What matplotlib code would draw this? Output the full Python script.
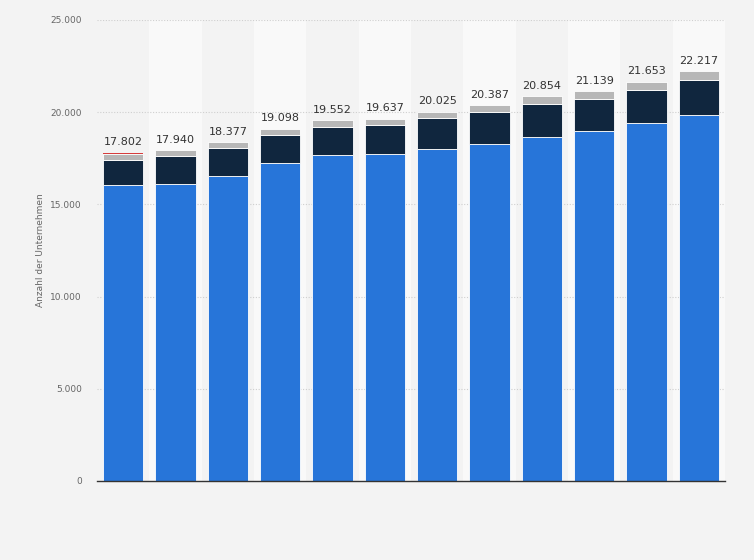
import numpy as np
import matplotlib.pyplot as plt

# stacked segments per year (12 bars, no category labels shown)
years = [str(y) for y in range(2008, 2020)]
blue = [16025, 16095, 16545, 17235, 17655, 17725, 17995, 18265, 18665, 18955, 19395, 19855]
navy = [1390, 1505, 1505, 1505, 1535, 1560, 1685, 1740, 1775, 1765, 1820, 1885]
grey = [320, 340, 327, 358, 362, 352, 345, 382, 414, 419, 438, 477]
red = [67, 0, 0, 0, 0, 0, 0, 0, 0, 0, 0, 0]
y_ticks = [0, 5000, 10000, 15000, 20000, 25000]

def de_num(v):
    return f"{v:,.0f}".replace(",", ".")

fig = plt.figure(figsize=(7.54, 5.6), dpi=100, facecolor='#f3f3f3')
ax = fig.add_axes([97/754, 1 - 481/560, 628/754, 461/560])
ax.set_facecolor('#f3f3f3')

x = np.arange(len(years))
for i in x:
    if i % 2 == 1:
        ax.axvspan(i - 0.5, i + 0.5, color='#f9f9f9', zorder=0, lw=0)

for yv in y_ticks[1:]:
    ax.axhline(yv, color='#cfcfcf', lw=0.8, ls=(0, (1, 1.5)), zorder=1)

w = 0.765
bottom = np.zeros(len(years))
for vals, col, lw in [(blue, '#2775d9', 0.6), (navy, '#10263e', 0.6),
                      (grey, '#b7b7b7', 0.6), (red, '#d63c3c', 0)]:
    vals = np.array(vals)
    ax.bar(x, vals, w, bottom=bottom, color=col, edgecolor='white', linewidth=lw, zorder=3)
    bottom = bottom + vals

for i, tot in enumerate(bottom):
    ax.annotate(de_num(tot), (i, tot), xytext=(0, 4), textcoords='offset points',
                ha='center', va='bottom', fontsize=8, color='#333333')

ax.set_xlim(-0.5, len(years) - 0.5)
ax.set_ylim(0, 25000)
ax.set_xticks([])
ax.set_yticks(y_ticks)
ax.set_yticklabels([de_num(v) for v in y_ticks], fontsize=6.5, color='#666666')
ax.tick_params(axis='y', length=0, pad=11)
for s in ['top', 'right', 'left']:
    ax.spines[s].set_visible(False)
ax.spines['bottom'].set_color('#333333')
ax.spines['bottom'].set_linewidth(1)
ax.spines['bottom'].set_zorder(5)
ax.set_ylabel('Anzahl der Unternehmen', fontsize=6.5, color='#666666', labelpad=4)

fig.savefig('out.png', dpi=100, facecolor=fig.get_facecolor())
